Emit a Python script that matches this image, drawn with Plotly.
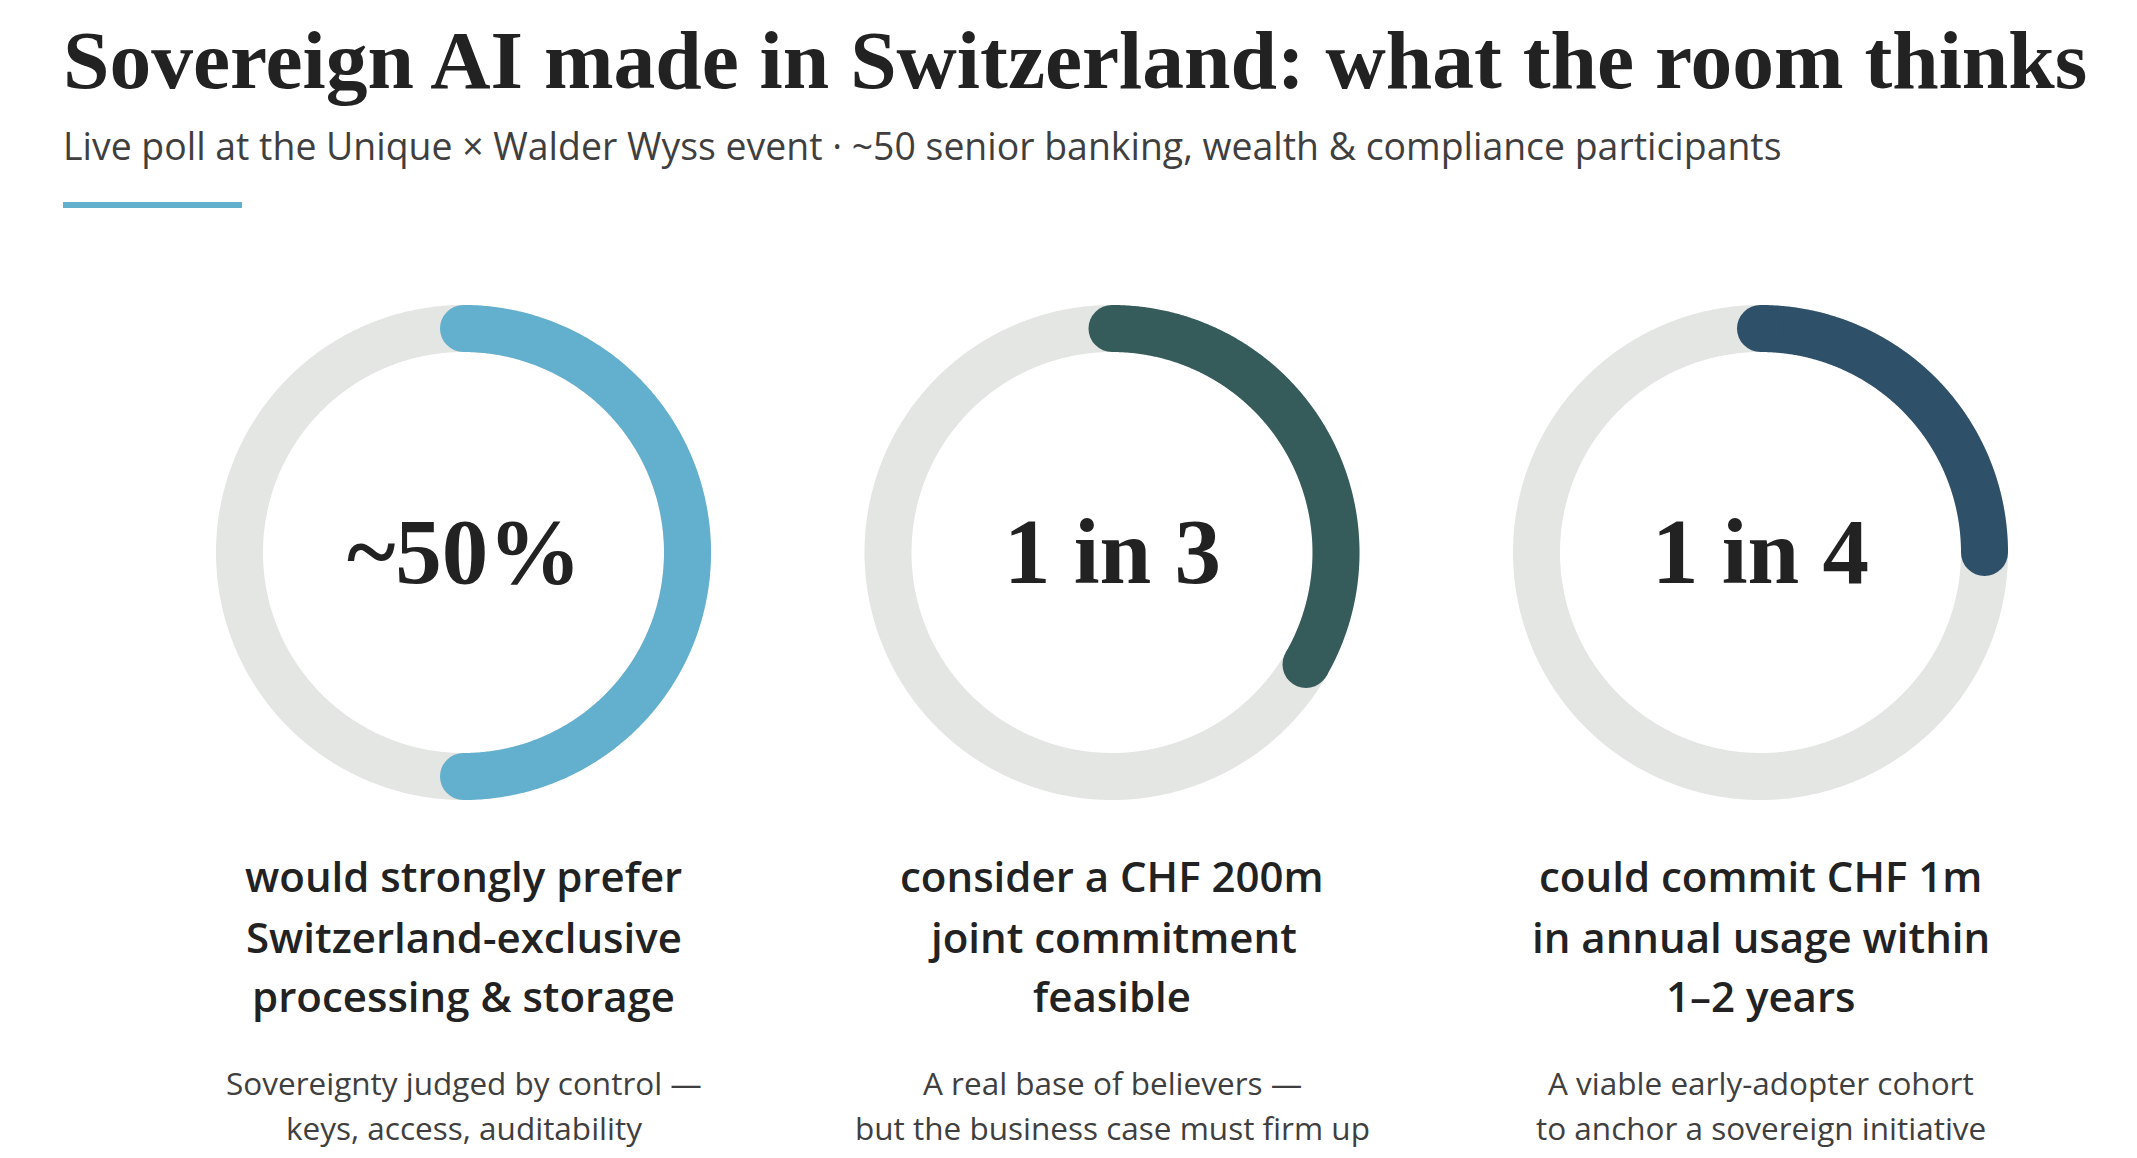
import numpy as np
import plotly.graph_objects as go

W, H = 2137, 1158

# ---- data ----
shares = [0.50, 1 / 3, 0.25]
big_labels = ["~50%", "1 in 3", "1 in 4"]
statements = [
    ["would strongly prefer", "Switzerland-exclusive", "processing & storage"],
    ["consider a CHF 200m", "joint commitment", "feasible"],
    ["could commit CHF 1m", "in annual usage within", "1\u20132 years"],
]
notes = [
    ["Sovereignty judged by control \u2014", "keys, access, auditability"],
    ["A real base of believers \u2014", "but the business case must firm up"],
    ["A viable early-adopter cohort", "to anchor a sovereign initiative"],
]
title = "Sovereign AI made in Switzerland: what the room thinks"
subtitle = ("Live poll at the Unique \u00d7 Walder Wyss event \u00b7 ~50 senior banking, "
            "wealth & compliance participants")

# ---- style ----
colors = ["#62AFCE", "#355C5B", "#2E5068"]
track = "#E4E6E3"
ink = "#222222"
grey_ink = "#3F3F3F"
SERIF = "Liberation Serif"
SANS = "Open Sans"

centers_x = [463.5, 1112, 1760.5]
center_y = 552.5
R = 224          # ring centre-line radius (px)
RING_W = 47      # ring thickness (px)
HALF = 270       # half-size of each polar domain (px)


def px(x):
    return x / W


def py(y):
    return 1 - y / H


fig = go.Figure()
layout_polars = {}
for i, (share, col, cx) in enumerate(zip(shares, colors, centers_x)):
    pname = "polar" if i == 0 else f"polar{i + 1}"
    sub = pname
    full = np.linspace(0, 360, 721)
    fig.add_trace(go.Scatterpolar(
        r=[R] * len(full), theta=full, mode="lines",
        line=dict(color=track, width=RING_W), subplot=sub,
        hoverinfo="skip", showlegend=False))
    th = np.linspace(0, share * 360, 400)
    fig.add_trace(go.Scatterpolar(
        r=[R] * len(th), theta=th, mode="lines",
        line=dict(color=col, width=RING_W), subplot=sub,
        hoverinfo="skip", showlegend=False))
    fig.add_trace(go.Scatterpolar(
        r=[R, R], theta=[0, share * 360], mode="markers",
        marker=dict(color=col, size=RING_W, line=dict(width=0)), subplot=sub,
        hoverinfo="skip", showlegend=False))
    layout_polars[pname] = dict(
        domain=dict(x=[px(cx - HALF), px(cx + HALF)],
                    y=[py(center_y + HALF), py(center_y - HALF)]),
        bgcolor="rgba(0,0,0,0)",
        radialaxis=dict(visible=False, range=[0, HALF]),
        angularaxis=dict(visible=False, direction="clockwise", rotation=90),
        hole=0,
    )

annotations = []
annotations.append(dict(
    text=f"<b>{title}</b>", x=px(61), y=py(60), xref="paper", yref="paper",
    xanchor="left", yanchor="middle", showarrow=False,
    font=dict(family=SERIF, size=83.5, color=ink)))
annotations.append(dict(
    text=subtitle, x=px(61), y=py(146), xref="paper", yref="paper",
    xanchor="left", yanchor="middle", showarrow=False,
    font=dict(family=SANS, size=37.4, color=grey_ink)))

label_y = [875, 936, 996]
note_y = [1082, 1127]
for cx, big, stm, nt in zip(centers_x, big_labels, statements, notes):
    annotations.append(dict(
        text=f"<b>{big}</b>", x=px(cx), y=py(552), xref="paper", yref="paper",
        xanchor="center", yanchor="middle", showarrow=False,
        font=dict(family=SERIF, size=93, color=ink)))
    for line, yy in zip(stm, label_y):
        annotations.append(dict(
            text=line, x=px(cx), y=py(yy), xref="paper", yref="paper",
            xanchor="center", yanchor="middle", showarrow=False,
            font=dict(family=SANS, size=42, color=ink, weight=600)))
    for line, yy in zip(nt, note_y):
        annotations.append(dict(
            text=line, x=px(cx), y=py(yy), xref="paper", yref="paper",
            xanchor="center", yanchor="middle", showarrow=False,
            font=dict(family=SANS, size=31.5, color=grey_ink)))

fig.update_layout(
    width=W, height=H,
    margin=dict(l=0, r=0, t=0, b=0),
    paper_bgcolor="white", plot_bgcolor="white",
    showlegend=False,
    annotations=annotations,
    shapes=[dict(type="rect", xref="paper", yref="paper",
                 x0=px(63), x1=px(242), y0=py(208), y1=py(202),
                 fillcolor="#62AFCE", line=dict(width=0))],
    **layout_polars,
)

fig.write_html("out.html", config={"displayModeBar": False, "staticPlot": True})
